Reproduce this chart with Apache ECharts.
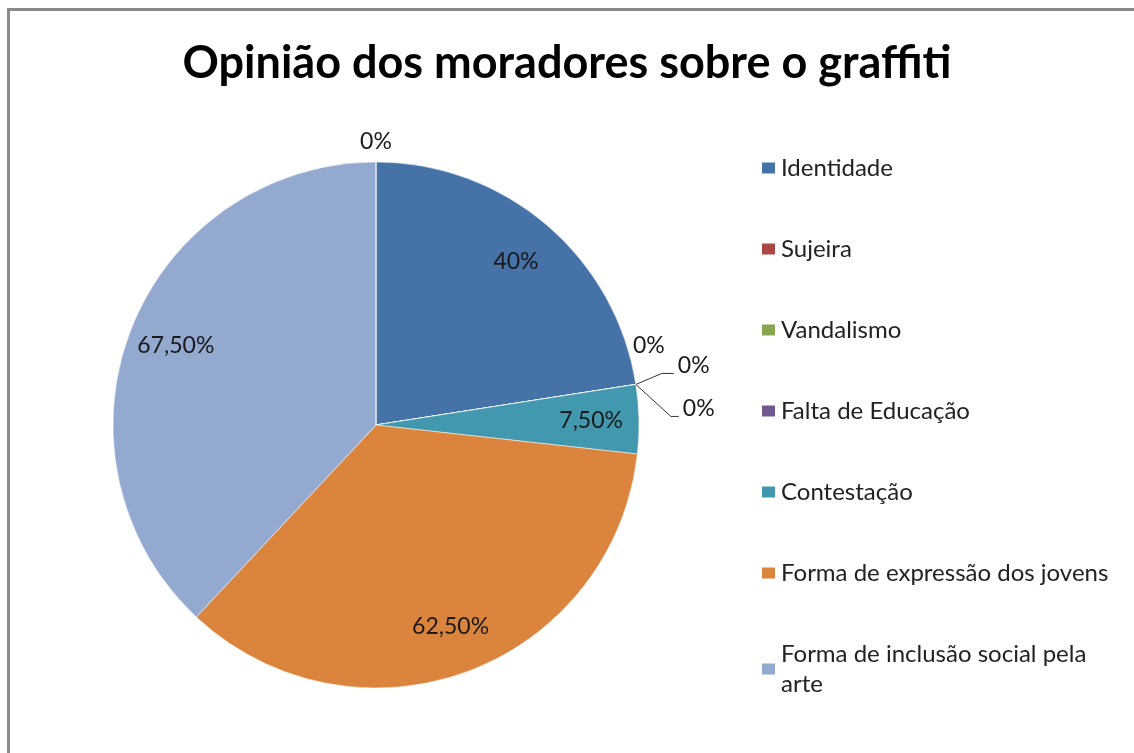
<!DOCTYPE html>
<html>
<head>
<meta charset="utf-8">
<script src="https://cdn.jsdelivr.net/npm/echarts@6/dist/echarts.min.js"></script>
<style>
html,body{margin:0;padding:0;background:#fff;overflow:hidden;}
#chart{position:absolute;left:0;top:0;width:1134px;height:753px;}
</style>
</head>
<body>
<div id="chart"></div>
<script>
const titleText = 'Opinião dos moradores sobre o graffiti';
const categories = ['Identidade', 'Sujeira', 'Vandalismo', 'Falta de Educação', 'Contestação', 'Forma de expressão dos jovens', 'Forma de inclusão social pela arte', ''];
const values = [40, 0, 0, 0, 7.5, 62.5, 67.5, 0];
const colors = ['#4572A7', '#AA4643', '#89A54E', '#71588F', '#4198AF', '#DB843D', '#93A9CF', '#A47D7C'];
const legendNames = categories.filter(c => c !== '');

const FONT = 'Lato';
const center = [376, 425];
const radius = 263;
const total = values.reduce((a, b) => a + b, 0);

function fmt(v) {
  if (Number.isInteger(v)) return v + '%';
  return v.toFixed(2).replace('.', ',') + '%';
}

// edge point of a zero-width slice (its boundary angle), computed from the data
function edgePoint(i) {
  let cum = 0;
  for (let j = 0; j < i; j++) cum += values[j];
  const a = Math.PI / 2 - 2 * Math.PI * cum / total;
  return [center[0] + radius * Math.cos(a), center[1] - radius * Math.sin(a)];
}

// placement of zero-value labels relative to the slice edge (stacked like the original)
const zeroLabelOffsets = {
  1: { dx: 13, dy: -39, line: false },
  2: { dx: 42, dy: -19, line: true, elbow: [26, -11] },
  3: { dx: 47, dy: 24, line: true, elbow: [35, 32] },
  7: { dx: 0, dy: -20, line: false }
};

const data = categories.map((name, i) => {
  const zero = values[i] === 0;
  return {
    name: name,
    value: values[i],
    itemStyle: { color: colors[i] },
    label: zero ? { position: 'outside' } : { position: 'inside' },
    labelLine: { show: zero && zeroLabelOffsets[i] && zeroLabelOffsets[i].line }
  };
});

const chart = echarts.init(document.getElementById('chart'), null, { renderer: 'canvas' });
chart.setOption({
  backgroundColor: '#fff',
  animation: false,
  graphic: [
    { type: 'line', silent: true, shape: { x1: 7, y1: 9.5, x2: 1134, y2: 9.5 }, style: { stroke: '#8a8a8a', lineWidth: 3 } },
    { type: 'line', silent: true, shape: { x1: 8.5, y1: 8, x2: 8.5, y2: 753 }, style: { stroke: '#8a8a8a', lineWidth: 3 } }
  ],
  title: {
    text: titleText,
    left: 'center',
    top: 36,
    textStyle: { fontFamily: FONT, fontWeight: 'bold', fontSize: 45, color: '#000' }
  },
  legend: {
    orient: 'vertical',
    left: 760,
    top: 153,
    height: 590,
    padding: 0,
    data: legendNames,
    itemWidth: 15,
    itemHeight: 13,
    itemGap: 51,
    icon: 'rect',
    selectedMode: false,
    textStyle: { fontFamily: FONT, fontSize: 24, color: '#222', lineHeight: 30, width: 345, overflow: 'break' }
  },
  series: [{
    type: 'pie',
    center: center,
    radius: radius,
    startAngle: 90,
    clockwise: true,
    avoidLabelOverlap: false,
    data: data,
    itemStyle: { borderColor: '#fff', borderWidth: 0.5 },
    label: {
      fontFamily: FONT,
      fontSize: 23,
      color: '#1a1a1a',
      formatter: p => fmt(p.value)
    },
    labelLine: { length: 20, length2: 10, lineStyle: { color: '#333', width: 1 } },
    labelLayout: function (p) {
      const i = p.dataIndex;
      if (values[i] > 0) {
        const lx = p.labelRect.x + p.labelRect.width / 2;
        const ly = p.labelRect.y + p.labelRect.height / 2;
        const k = 0.80 / 0.5 - 1;
        return { dx: (lx - center[0]) * k, dy: (ly - center[1]) * k };
      }
      const o = zeroLabelOffsets[i];
      const e = edgePoint(i);
      const res = { x: e[0] + o.dx, y: e[1] + o.dy, align: o.line ? 'left' : 'center', verticalAlign: 'middle' };
      if (o.line) {
        const elbow = [e[0] + o.elbow[0], e[1] + o.elbow[1]];
        res.labelLinePoints = [e, elbow, [e[0] + o.dx - 4, elbow[1]]];
      }
      return res;
    }
  }]
});
</script>
</body>
</html>
